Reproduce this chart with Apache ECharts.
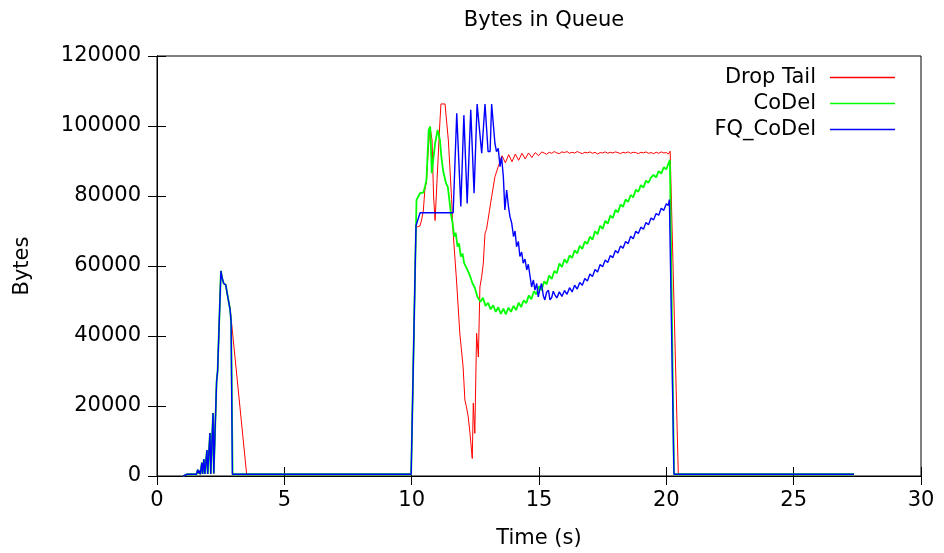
<!DOCTYPE html>
<html>
<head>
<meta charset="utf-8">
<script src="https://cdn.jsdelivr.net/npm/echarts@6/dist/echarts.min.js"></script>
<style>
  html, body { margin: 0; padding: 0; background: #fff; }
  #chart { width: 944px; height: 553px; }
</style>
</head>
<body>
<div id="chart"></div>
<script>
// Queue occupancy over time, [seconds, bytes]
const dropTail = [
  [1.03, 0], [1.18, 500], [1.55, 500], [1.60, 1800], [1.63, 800], [1.66, 1500], [1.70, 500],
  [1.76, 3800], [1.79, 600], [1.84, 4800], [1.88, 600], [1.96, 7400], [1.99, 600],
  [2.08, 12300], [2.11, 600], [2.20, 18000], [2.23, 700], [2.30, 1000], [2.34, 27000],
  [2.38, 30000], [2.51, 58600], [2.56, 56500], [2.62, 55000], [2.70, 54600], [2.76, 52000],
  [2.87, 48000], [3.52, 500], [9.98, 500],
  [10.17, 71000], [10.22, 71500], [10.33, 71500], [10.40, 73500], [10.46, 76000], [10.52, 82000],
  [10.58, 84000], [10.65, 93000], [10.72, 99800], [10.80, 96000], [10.86, 80000], [10.92, 73000],
  [11.00, 85000], [11.10, 100000], [11.15, 106300], [11.31, 106300], [11.44, 96000], [11.57, 79000],
  [11.63, 69300], [11.76, 56000], [11.89, 40800], [12.02, 31200], [12.09, 21700], [12.15, 19800],
  [12.22, 17000], [12.29, 12200], [12.32, 9800], [12.38, 5000], [12.42, 20800], [12.48, 12200],
  [12.55, 40800], [12.62, 34000], [12.68, 54000], [12.75, 57000], [12.81, 60500], [12.88, 69300],
  [12.94, 70500], [13.01, 71000], [13.14, 79800], [13.27, 85500], [13.40, 88400], [13.49, 90300],
  [13.55, 91500], [13.62, 92000], [13.68, 89500], [13.75, 89400], [13.81, 91800], [13.88, 92300],
  [13.94, 89800], [14.01, 90000], [14.07, 92000], [14.14, 92300], [14.20, 90200], [14.27, 90400],
  [14.33, 92200], [14.40, 92400], [14.46, 90600], [14.53, 90900], [14.59, 92300], [14.66, 92500],
  [14.72, 91000], [14.79, 91300], [14.85, 92400], [14.92, 92500], [14.98, 91500], [15.05, 91700],
  [15.11, 92600], [15.2, 92300], [15.3, 91900], [15.4, 92500], [15.5, 92200], [15.6, 92700],
  [15.7, 92300], [15.8, 92100], [15.9, 92600], [16.0, 92400], [16.1, 92700], [16.2, 92200],
  [16.3, 92500], [16.4, 92300], [16.5, 92700], [16.6, 92400], [16.7, 92100], [16.8, 92500],
  [16.9, 92300], [17.0, 92600], [17.1, 92200], [17.2, 92500], [17.3, 92000], [17.4, 92400],
  [17.5, 92300], [17.6, 92600], [17.7, 92200], [17.8, 92500], [17.9, 92300], [18.0, 92600],
  [18.1, 92400], [18.2, 92100], [18.3, 92500], [18.4, 92300], [18.5, 92600], [18.6, 92200],
  [18.7, 92500], [18.8, 92400], [18.9, 92100], [19.0, 92500], [19.1, 92300], [19.2, 92600],
  [19.3, 92200], [19.4, 92400], [19.5, 92100], [19.6, 92500], [19.7, 92200], [19.8, 92600],
  [19.9, 92300], [20.0, 92400], [20.08, 92000], [20.15, 92800], [20.21, 92400], [20.47, 500],
  [27.37, 500]
];

const coDel = [
  [1.03, 0], [1.18, 500], [1.55, 500], [1.60, 1800], [1.63, 800], [1.66, 1500], [1.70, 500],
  [1.76, 3800], [1.79, 600], [1.84, 4800], [1.88, 600], [1.96, 7400], [1.99, 600],
  [2.08, 12300], [2.11, 600], [2.20, 18000], [2.23, 700], [2.30, 1000], [2.34, 27000],
  [2.38, 30000], [2.51, 58600], [2.56, 56500], [2.62, 55000], [2.70, 54600], [2.76, 52000],
  [2.87, 47500], [2.91, 44000], [2.97, 500], [9.98, 500],
  [10.19, 78900], [10.33, 80800], [10.46, 81000], [10.52, 82600], [10.58, 84500], [10.67, 98900],
  [10.73, 99800], [10.79, 86500], [10.86, 87000], [10.92, 95000], [11.02, 98900], [11.11, 96000],
  [11.17, 91000], [11.24, 87000], [11.35, 83600], [11.42, 82600], [11.48, 78900], [11.54, 75000],
  [11.60, 72500], [11.67, 68400], [11.73, 69500], [11.80, 65500], [11.86, 66500], [11.93, 62700],
  [12.00, 63500], [12.06, 60800], [12.12, 61200], [12.19, 58900], [12.29, 57200], [12.39, 55000],
  [12.48, 53800], [12.58, 51200], [12.6, 51500], [12.7, 49800], [12.8, 50900], [12.9, 48600],
  [13.0, 49500], [13.1, 47600], [13.2, 48800], [13.3, 46900], [13.4, 48200], [13.5, 46300],
  [13.6, 47800], [13.7, 46200], [13.8, 48100], [13.9, 46900], [14.0, 48600], [14.1, 47400],
  [14.2, 49500], [14.3, 48300], [14.4, 50200], [14.5, 49400], [14.6, 51600], [14.7, 50500],
  [14.8, 52800], [14.9, 51900], [15.0, 54200], [15.1, 53100], [15.2, 55600], [15.3, 54800],
  [15.4, 57300], [15.5, 56300], [15.6, 58600], [15.7, 57900], [15.8, 60700], [15.9, 59700],
  [16.0, 61900], [16.1, 60900], [16.2, 63000], [16.3, 62300], [16.4, 64500], [16.5, 63600],
  [16.6, 65800], [16.7, 64900], [16.8, 67000], [16.9, 66300], [17.0, 68400], [17.1, 67500],
  [17.2, 69900], [17.3, 69100], [17.4, 71500], [17.5, 70600], [17.6, 72900], [17.7, 72100],
  [17.8, 74400], [17.9, 73700], [18.0, 76000], [18.1, 75300], [18.2, 77600], [18.3, 76900],
  [18.4, 79000], [18.5, 78300], [18.6, 80300], [18.7, 79600], [18.8, 81800], [18.9, 81200],
  [19.0, 83100], [19.1, 82400], [19.2, 84400], [19.3, 83800], [19.4, 85300], [19.5, 86000],
  [19.6, 85300], [19.7, 87100], [19.8, 86400], [19.9, 88200], [20.0, 87600], [20.08, 89200],
  [20.14, 90300], [20.30, 500], [27.37, 500]
];

const fqCoDel = [
  [1.03, 0], [1.18, 500], [1.55, 500], [1.60, 1800], [1.63, 800], [1.66, 1500], [1.70, 500],
  [1.76, 3800], [1.79, 600], [1.84, 4800], [1.88, 600], [1.96, 7400], [1.99, 600],
  [2.08, 12300], [2.11, 600], [2.20, 18000], [2.23, 700], [2.30, 1000], [2.34, 27000],
  [2.38, 30000], [2.51, 58600], [2.56, 56500], [2.62, 55000], [2.70, 54600], [2.76, 52000],
  [2.87, 47500], [2.91, 44000], [2.96, 500], [9.98, 500],
  [10.17, 71500], [10.33, 75200], [11.63, 75200],
  [11.77, 103600], [11.93, 77000], [12.05, 103100], [12.18, 77900], [12.32, 104600], [12.45, 80800],
  [12.57, 106300], [12.64, 106300], [12.75, 92200], [12.82, 92200], [12.88, 106300], [12.94, 106300],
  [13.00, 92700], [13.08, 92700], [13.14, 106300], [13.20, 106300], [13.27, 95000], [13.33, 92700],
  [13.40, 93600], [13.47, 88400], [13.53, 91200], [13.60, 85500], [13.66, 76000], [13.73, 81700],
  [13.80, 77000], [13.86, 74100], [13.93, 72200], [14.00, 68400], [14.06, 70000], [14.12, 65500],
  [14.19, 67000], [14.25, 62700], [14.32, 64000], [14.38, 60800], [14.45, 62000], [14.52, 58900],
  [14.58, 60500], [14.65, 57000], [14.71, 54000], [14.78, 56000], [14.84, 53100], [14.91, 55000],
  [14.97, 51200], [15.04, 53500], [15.10, 55000], [15.17, 51500], [15.23, 50300], [15.30, 52500],
  [15.37, 53100], [15.43, 50300], [15.50, 51000], [15.56, 52800], [15.63, 51700], [15.7, 50900],
  [15.8, 52600], [15.9, 51300], [16.0, 53000], [16.1, 51900], [16.2, 53800], [16.3, 52600],
  [16.4, 54500], [16.5, 53400], [16.6, 55300], [16.7, 54500], [16.8, 56400], [16.9, 55700],
  [17.0, 57700], [17.1, 57000], [17.2, 59000], [17.3, 58300], [17.4, 60400], [17.5, 59800],
  [17.6, 61700], [17.7, 61000], [17.8, 63000], [17.9, 62400], [18.0, 64400], [18.1, 63700],
  [18.2, 65700], [18.3, 65100], [18.4, 67000], [18.5, 66400], [18.6, 68500], [18.7, 67800],
  [18.8, 69900], [18.9, 69300], [19.0, 71100], [19.1, 70500], [19.2, 72400], [19.3, 71800],
  [19.4, 73700], [19.5, 73200], [19.6, 75000], [19.7, 74500], [19.8, 76500], [19.9, 75900],
  [20.0, 77800], [20.08, 77300], [20.12, 79000], [20.14, 79300], [20.30, 500], [27.37, 500]
];

const xTicks = [0, 5, 10, 15, 20, 25, 30];
const yTicks = [0, 20000, 40000, 60000, 80000, 100000, 120000];

const FONT = 'DejaVu Sans';
const FS = 21;
const chart = echarts.init(document.getElementById('chart'), null, { renderer: 'canvas' });

const axisBase = {
  axisLine: { show: true, lineStyle: { color: '#000', width: 1 } },
  axisTick: { show: true, inside: true, length: 9, lineStyle: { color: '#000', width: 1 } },
  splitLine: { show: false }
};

function lineSeries(name, data, color, width, z) {
  return {
    name, type: 'line', data, z,
    showSymbol: false, symbol: 'none',
    animation: false,
    lineStyle: { color, width },
    itemStyle: { color }
  };
}

chart.setOption({
  backgroundColor: '#fff',
  animation: false,
  textStyle: { fontFamily: FONT },
  title: {
    text: 'Bytes in Queue',
    left: 539, top: 5, textAlign: 'center',
    textStyle: { fontFamily: FONT, fontSize: FS, fontWeight: 'normal', color: '#000' }
  },
  grid: {
    left: 157, right: 23, top: 56, bottom: 77,
    outerBoundsMode: 'none', containLabel: false,
    show: true, borderColor: '#000', borderWidth: 1, backgroundColor: 'transparent'
  },
  legend: {
    orient: 'vertical', right: 49, top: 67, align: 'right', padding: 0,
    icon: 'rect',
    itemWidth: 65, itemHeight: 1.5, itemGap: 5,
    selectedMode: false,
    textStyle: { fontFamily: FONT, fontSize: FS, color: '#000', width: 120, align: 'right', padding: [0, 9, 0, 0], lineHeight: 20 },
    data: ['Drop Tail', 'CoDel', 'FQ_CoDel']
  },
  xAxis: [
    Object.assign({}, axisBase, {
      type: 'value', min: xTicks[0], max: xTicks[xTicks.length - 1], interval: 5,
      name: 'Time (s)', nameLocation: 'middle', nameGap: 52,
      nameTextStyle: { fontFamily: FONT, fontSize: FS, color: '#000' },
      axisLabel: { fontFamily: FONT, fontSize: FS, color: '#000', margin: 14 }
    }),
    Object.assign({}, axisBase, {
      type: 'value', position: 'top', min: xTicks[0], max: xTicks[xTicks.length - 1], interval: 5,
      axisLabel: { show: false }
    })
  ],
  yAxis: [
    Object.assign({}, axisBase, {
      type: 'value', min: yTicks[0], max: yTicks[yTicks.length - 1], interval: 20000,
      name: 'Bytes', nameLocation: 'middle', nameGap: 124, nameRotate: 90,
      nameTextStyle: { fontFamily: FONT, fontSize: FS, color: '#000' },
      axisLabel: { fontFamily: FONT, fontSize: FS, color: '#000', margin: 16, formatter: v => String(v) }
    }),
    Object.assign({}, axisBase, {
      type: 'value', position: 'right', min: yTicks[0], max: yTicks[yTicks.length - 1], interval: 20000,
      axisLabel: { show: false }
    })
  ],
  series: [
    lineSeries('Drop Tail', dropTail, '#ff0000', 1, 2),
    lineSeries('CoDel', coDel, '#00ff00', 1.8, 3),
    lineSeries('FQ_CoDel', fqCoDel, '#0000ff', 1.4, 4)
  ]
});
</script>
</body>
</html>
